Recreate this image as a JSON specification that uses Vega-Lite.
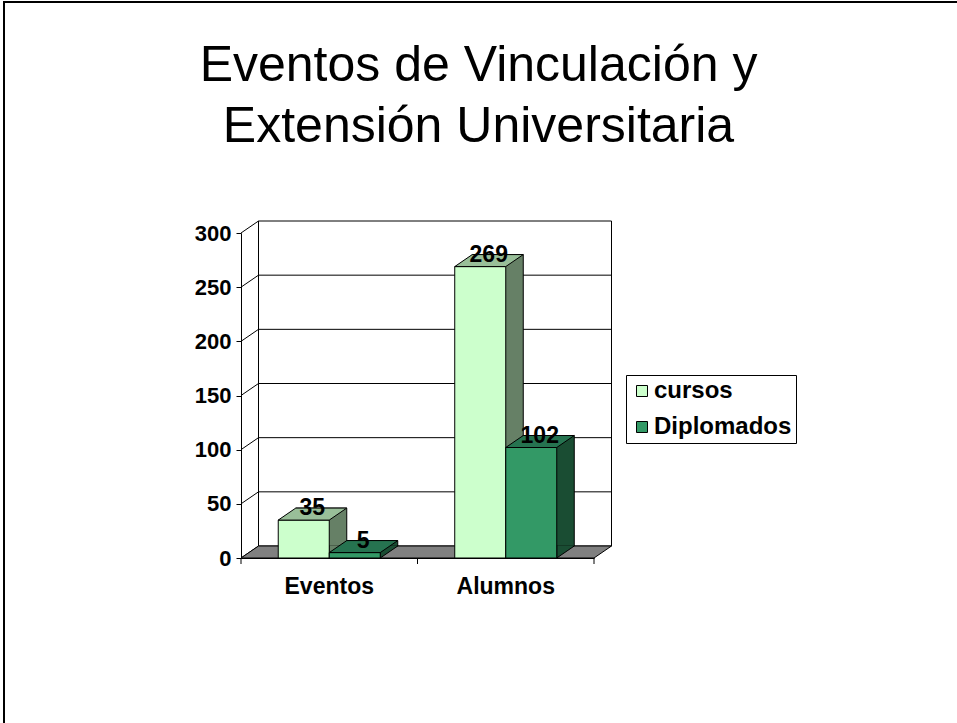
{
  "$schema": "https://vega.github.io/schema/vega-lite/v6.json",
  "autosize": {"type": "none"},
  "width": 353,
  "height": 325,
  "padding": {"left": 241, "top": 233, "right": 363, "bottom": 165},
  "background": "white",
  "config": {"view": {"stroke": null}, "font": "Liberation Sans"},
  "title": {
    "text": ["Eventos de Vinculación y", "Extensión Universitaria"],
    "font": "Liberation Sans",
    "fontSize": 50,
    "fontWeight": "normal",
    "color": "black",
    "lineHeight": 61,
    "anchor": "middle",
    "frame": "group",
    "baseline": "bottom",
    "offset": -204,
    "dx": 61
  },
  "datasets": {
    "bars": [
      {"categoria": "Eventos", "serie": "cursos", "valor": 35},
      {"categoria": "Eventos", "serie": "Diplomados", "valor": 5},
      {"categoria": "Alumnos", "serie": "cursos", "valor": 269},
      {"categoria": "Alumnos", "serie": "Diplomados", "valor": 102}
    ],
    "ticks": [{"v": 0}, {"v": 50}, {"v": 100}, {"v": 150}, {"v": 200}, {"v": 250}, {"v": 300}]
  },
  "resolve": {"scale": {"xOffset": "independent"}},
  "layer": [
    {
      "data": {"name": "ticks"},
      "mark": {"type": "point", "shape": "M0,0L17.5,-12L370.5,-12", "size": 4, "filled": false, "stroke": "black", "strokeWidth": 1, "opacity": 1},
      "encoding": {
        "x": {"datum": "Eventos", "type": "nominal", "bandPosition": 0,
              "scale": {"domain": ["Eventos", "Alumnos"], "paddingInner": 0, "paddingOuter": 0},
              "axis": {"title": null, "ticks": false, "tickSize": 0, "domain": true, "domainColor": "black", "labelFontSize": 23, "labelFontWeight": "bold", "labelColor": "black", "labelPadding": 17, "labelAngle": 0, "labelFont": "Liberation Sans"}},
        "y": {"field": "v", "type": "quantitative",
              "scale": {"domain": [0, 300], "nice": false, "zero": true},
              "axis": {"title": null, "values": [0, 50, 100, 150, 200, 250, 300], "grid": false, "domainColor": "black", "tickColor": "black", "tickSize": 5, "labelFontSize": 22, "labelFontWeight": "bold", "labelColor": "black", "labelPadding": 5, "labelFont": "Liberation Sans"}}
      }
    },
    {
      "data": {"values": [{}]},
      "mark": {"type": "point", "shape": "M17.5,-12L17.5,313M370.5,-12L370.5,313", "size": 4, "filled": false, "stroke": "black", "strokeWidth": 1, "opacity": 1},
      "encoding": {
        "x": {"datum": "Eventos", "type": "nominal", "bandPosition": 0},
        "y": {"datum": 300, "type": "quantitative"}
      }
    },
    {
      "data": {"values": [{}]},
      "mark": {"type": "point", "shape": "M0,0L353,0L370.5,-12L17.5,-12ZM0,0L0,6M176.5,0L176.5,6M353,0L353,6", "size": 4, "filled": true, "fill": "#808080", "stroke": "black", "strokeWidth": 1, "opacity": 1},
      "encoding": {
        "x": {"datum": "Eventos", "type": "nominal", "bandPosition": 0},
        "y": {"datum": 0, "type": "quantitative"}
      }
    },
    {
      "data": {"values": [{}]},
      "mark": {"type": "point", "shape": "M-237,170L-237,-556L720,-556", "size": 4, "filled": false, "stroke": "black", "strokeWidth": 2, "opacity": 1},
      "encoding": {
        "x": {"datum": "Eventos", "type": "nominal", "bandPosition": 0},
        "y": {"datum": 0, "type": "quantitative"}
      }
    },
    {
      "data": {"name": "bars"},
      "mark": {"type": "bar", "yOffset": -12, "y2Offset": -12, "stroke": "black", "strokeWidth": 1},
      "encoding": {
        "x": {"field": "categoria", "type": "nominal"},
        "xOffset": {"field": "serie", "type": "nominal", "scale": {"type": "band", "domain": ["cursos", "Diplomados"], "paddingInner": 0, "paddingOuter": 0.73, "range": [17.5, 194]}},
        "y": {"field": "valor", "type": "quantitative"},
        "fill": {"condition": {"test": "datum.serie === 'cursos'", "value": "#668066"}, "value": "#1A4D33"}
      }
    },
    {
      "data": {"name": "bars"},
      "mark": {"type": "point", "shape": "M43,-12.6L43,-12L25.5,0L25.5,-12.6", "size": 4, "filled": true, "stroke": "black", "strokeWidth": 1, "opacity": 1},
      "encoding": {
        "x": {"field": "categoria", "type": "nominal"},
        "xOffset": {"field": "serie", "type": "nominal", "scale": {"type": "band", "domain": ["cursos", "Diplomados"], "paddingInner": 0, "paddingOuter": 0.73}},
        "y": {"datum": 0, "type": "quantitative"},
        "fill": {"condition": {"test": "datum.serie === 'cursos'", "value": "#668066"}, "value": "#1A4D33"}
      }
    },
    {
      "data": {"name": "bars"},
      "mark": {"type": "bar", "stroke": "black", "strokeWidth": 1, "opacity": 1},
      "encoding": {
        "x": {"field": "categoria", "type": "nominal"},
        "xOffset": {"field": "serie", "type": "nominal", "scale": {"type": "band", "domain": ["cursos", "Diplomados"], "paddingInner": 0, "paddingOuter": 0.73}},
        "y": {"field": "valor", "type": "quantitative"},
        "color": {"field": "serie", "type": "nominal",
                  "scale": {"domain": ["cursos", "Diplomados"], "range": ["#CCFFCC", "#339966"]},
                  "legend": {"orient": "none", "legendX": 385, "legendY": 142, "title": null, "strokeColor": "black", "fillColor": "white", "padding": 4, "symbolType": "square", "symbolSize": 121, "symbolStrokeColor": "black", "symbolStrokeWidth": 1, "labelFontSize": 24, "labelFontWeight": "bold", "labelColor": "black", "labelFont": "Liberation Sans", "rowPadding": 12, "labelOffset": 0}}
      }
    },
    {
      "data": {"name": "bars"},
      "mark": {"type": "point", "shape": "M-25.5,0L25.5,0L43,-12L-8,-12Z", "size": 4, "filled": true, "stroke": "black", "strokeWidth": 1, "opacity": 1},
      "encoding": {
        "x": {"field": "categoria", "type": "nominal"},
        "xOffset": {"field": "serie", "type": "nominal", "scale": {"type": "band", "domain": ["cursos", "Diplomados"], "paddingInner": 0, "paddingOuter": 0.73}},
        "y": {"field": "valor", "type": "quantitative"},
        "fill": {"condition": {"test": "datum.serie === 'cursos'", "value": "#99BF99"}, "value": "#267350"}
      }
    },
    {
      "data": {"name": "bars"},
      "mark": {"type": "text", "dx": 8.5, "dy": -5, "baseline": "alphabetic", "fontSize": 23, "fontWeight": "bold", "font": "Liberation Sans", "color": "black"},
      "encoding": {
        "x": {"field": "categoria", "type": "nominal"},
        "xOffset": {"field": "serie", "type": "nominal", "scale": {"type": "band", "domain": ["cursos", "Diplomados"], "paddingInner": 0, "paddingOuter": 0.73}},
        "y": {"field": "valor", "type": "quantitative"},
        "text": {"field": "valor", "type": "quantitative"}
      }
    }
  ]
}
